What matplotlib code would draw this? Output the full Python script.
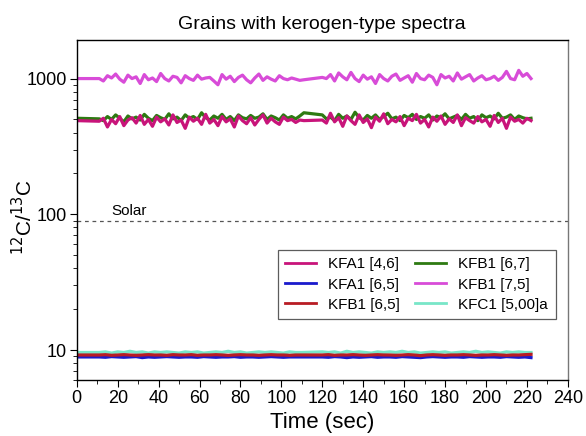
import matplotlib.pyplot as plt
from matplotlib.ticker import LogLocator, NullFormatter, MultipleLocator

plt.rcParams['font.family'] = ['Liberation Sans', 'DejaVu Sans']

# time grid (sec) for the upper, noisier grains
time_hi = [0, 11, 13, 15, 17, 19, 21, 23, 25, 27, 29, 31, 33, 35, 37, 39, 41, 43, 45, 47,
           49, 51, 53, 55, 57, 59, 61, 63, 65, 67, 69, 71, 73, 75, 77, 79, 81, 83, 85, 87,
           89, 91, 93, 95, 97, 99, 101, 103, 105, 107, 109, 111,
           120, 122, 124, 126, 128, 130, 132, 134, 136, 138, 140, 142, 144, 146, 148, 150,
           152, 154, 156, 158, 160, 162, 164, 166, 168, 170, 172, 174, 176, 178, 180, 182,
           184, 186, 188, 190, 192, 194, 196, 198, 200, 202, 204, 206, 208, 210, 212, 214,
           216, 218, 220, 222]

# time grid (sec) for the low-ratio grains
time_lo = [0, 11, 14, 17, 20, 23, 26, 29, 32, 35, 38, 41, 44, 47, 50, 53, 56, 59, 62, 65,
           68, 71, 74, 77, 80, 83, 86, 89, 92, 95, 98, 101, 104, 107, 110,
           120, 123, 126, 129, 132, 135, 138, 141, 144, 147, 150, 153, 156, 159, 162,
           165, 168, 171, 174, 177, 180, 183, 186, 189, 192, 195, 198, 201, 204, 207,
           210, 213, 216, 219, 222]

kfb1_75 = [1000, 1000, 960, 1050, 1010, 1080, 990, 940, 1060, 1000,
           1030, 920, 1070, 980, 1010, 950, 1090, 1000, 960, 1040,
           1020, 930, 1050, 1000, 970, 1060, 990, 1010, 1020, 960,
           900, 1070, 990, 1040, 950, 1020, 1060, 980, 930, 1010,
           1080, 970, 1030, 990, 960, 1050, 1000, 980, 1010, 990,
           970, 980,
           1020, 1000, 1070, 960, 1100, 1030, 980, 1110, 1000, 950,
           1060, 990, 1030, 920, 1070, 1000, 960, 1040, 1080, 970,
           1010, 1050, 940, 1090, 1000, 980, 1060, 1020, 900, 1070,
           1010, 1040, 960, 1100, 990, 1030, 1070, 960, 1010, 1050,
           980, 1000, 1040, 970, 1020, 1130, 1000, 980, 1150, 1040,
           1090, 1000]

kfb1_67 = [510, 505, 490, 525, 500, 540, 510, 480, 530, 505,
           520, 495, 545, 510, 490, 535, 515, 500, 550, 505,
           520, 490, 540, 510, 525, 500, 560, 515, 495, 530,
           510, 545, 500, 525, 490, 540, 515, 505, 535, 510,
           520, 550, 500, 530, 515, 495, 540, 510, 525, 505,
           530, 560,
           540, 505, 520, 490, 545, 510, 530, 500, 565, 515,
           495, 535, 510, 540, 500, 525, 555, 505, 520, 490,
           535, 515, 545, 500, 525, 510, 540, 495, 530, 515,
           550, 505, 520, 535, 500, 545, 510, 525, 490, 540,
           515, 530, 505, 555, 510, 520, 540, 500, 530, 515,
           505, 510]

kfa1_46 = [490, 485, 510, 440, 500, 465, 525, 450, 495, 515,
           470, 535, 460, 500, 445, 520, 480, 505, 455, 540,
           475, 495, 430, 520, 485, 510, 460, 545, 470, 500,
           450, 525, 480, 505, 440, 530, 490, 465, 515, 455,
           500, 540, 470, 510, 480, 460, 520, 490, 500, 475,
           495, 490,
           495, 470, 555, 480, 515, 445, 530, 490, 460, 540,
           475, 505, 435, 520, 485, 550, 465, 500, 480, 525,
           450, 510, 490, 545, 470, 500, 440, 520, 485, 530,
           460, 505, 475, 540, 450, 515, 490, 470, 525, 480,
           500, 445, 535, 475, 510, 430, 520, 485, 500, 470,
           510, 490]

kfc1_500 = [9.6, 9.6, 9.7, 9.5, 9.7, 9.6, 9.8, 9.6, 9.7, 9.5,
            9.7, 9.6, 9.7, 9.6, 9.5, 9.7, 9.6, 9.7, 9.5, 9.6,
            9.7, 9.6, 9.8, 9.6, 9.7, 9.5, 9.6, 9.7, 9.6, 9.7,
            9.6, 9.5, 9.7, 9.6, 9.6,
            9.7, 9.6, 9.7, 9.5, 9.8, 9.6, 9.7, 9.6, 9.5, 9.7,
            9.6, 9.7, 9.6, 9.8, 9.6, 9.7, 9.5, 9.6, 9.7, 9.6,
            9.7, 9.5, 9.6, 9.7, 9.6, 9.8, 9.6, 9.7, 9.6, 9.5,
            9.7, 9.6, 9.7, 9.6, 9.6]

kfb1_65 = [9.2, 9.2, 9.25, 9.15, 9.2, 9.25, 9.2, 9.15, 9.2, 9.25,
           9.2, 9.2, 9.15, 9.25, 9.2, 9.2, 9.25, 9.15, 9.2, 9.2,
           9.25, 9.2, 9.15, 9.2, 9.25, 9.2, 9.2, 9.15, 9.2, 9.25,
           9.2, 9.2, 9.15, 9.2, 9.2,
           9.2, 9.25, 9.15, 9.2, 9.2, 9.25, 9.2, 9.15, 9.2, 9.25,
           9.2, 9.2, 9.15, 9.2, 9.25, 9.2, 9.1, 9.2, 9.25, 9.2,
           9.15, 9.2, 9.2, 9.25, 9.2, 9.15, 9.2, 9.2, 9.25, 9.2,
           9.15, 9.2, 9.2, 9.25, 9.3]

kfa1_65 = [8.9, 8.9, 8.85, 8.95, 8.9, 8.85, 8.9, 8.95, 8.8, 8.9,
           8.85, 8.9, 8.95, 8.9, 8.85, 8.9, 8.9, 8.85, 8.95, 8.9,
           8.85, 8.9, 8.9, 8.95, 8.85, 8.9, 8.9, 8.85, 8.9, 8.95,
           8.9, 8.85, 8.9, 8.9, 8.9,
           8.9, 8.85, 8.95, 8.9, 8.8, 8.9, 8.85, 8.9, 8.95, 8.85,
           8.9, 8.9, 8.85, 8.95, 8.9, 8.85, 8.8, 8.9, 8.95, 8.9,
           8.85, 8.9, 8.9, 8.85, 8.95, 8.9, 8.85, 8.9, 8.9, 8.85,
           8.95, 8.9, 8.85, 8.9, 8.8]

solar = 89

fig = plt.figure(figsize=(5.86, 4.36), dpi=100)
ax = fig.add_axes([0.131, 0.128, 0.838, 0.78])

lw = 2.3
l_a46, = ax.plot([], [], color='#c8147a', lw=lw, label='KFA1 [4,6]')
l_a65, = ax.plot(time_lo, kfa1_65, color='#1a1acc', lw=lw, label='KFA1 [6,5]')
l_b65, = ax.plot(time_lo, kfb1_65, color='#b81c24', lw=lw, label='KFB1 [6,5]')
l_c1, = ax.plot(time_lo, kfc1_500, color='#78e6c8', lw=lw, label='KFC1 [5,00]a', zorder=1.5)
l_b67, = ax.plot(time_hi, kfb1_67, color='#2e7a12', lw=lw, label='KFB1 [6,7]')
ax.plot(time_hi, kfa1_46, color='#c8147a', lw=lw)
l_b75, = ax.plot(time_hi, kfb1_75, color='#d84cd8', lw=lw, label='KFB1 [7,5]')

ax.axhline(solar, color='#555555', lw=0.9, ls=(0, (3, 3)))
ax.text(17, solar * 1.06, 'Solar', fontsize=11, ha='left', va='bottom')

ax.set_yscale('log')
ax.set_ylim(6, 1920)
ax.set_xlim(0, 240)
ax.xaxis.set_major_locator(MultipleLocator(20))
ax.xaxis.set_minor_locator(MultipleLocator(10))
ax.yaxis.set_minor_locator(LogLocator(base=10, subs=range(2, 10), numticks=10))
ax.yaxis.set_minor_formatter(NullFormatter())
ax.set_yticks([10, 100, 1000])
ax.set_yticklabels(['10', '100', '1000'])
ax.tick_params(which='major', direction='out', length=5, labelsize=13, pad=2)
ax.tick_params(which='minor', direction='out', length=3)
ax.tick_params(right=False, top=False, which='both')
for s in ax.spines.values():
    s.set_linewidth(1.0)
ax.spines['right'].set_color('#777777')

ax.set_title('Grains with kerogen-type spectra', fontsize=14, pad=8)
ax.set_xlabel('Time (sec)', fontsize=16, labelpad=4)
ax.set_ylabel('$^{12}$C/$^{13}$C', fontsize=15)
ax.yaxis.set_label_coords(-0.082, 0.48)

handles = [l_a46, l_a65, l_b65, l_b67, l_b75, l_c1]
leg = ax.legend(handles=handles, ncol=2, loc='lower right',
                bbox_to_anchor=(0.975, 0.179), fontsize=11, frameon=True,
                fancybox=False, edgecolor='#333333', handlelength=2.0,
                columnspacing=1.0, handletextpad=0.8, borderpad=0.5,
                labelspacing=0.4, borderaxespad=0)
leg.get_frame().set_linewidth(0.9)
for h in leg.get_lines():
    h.set_linewidth(2.0)

fig.savefig('out.png', dpi=100)
